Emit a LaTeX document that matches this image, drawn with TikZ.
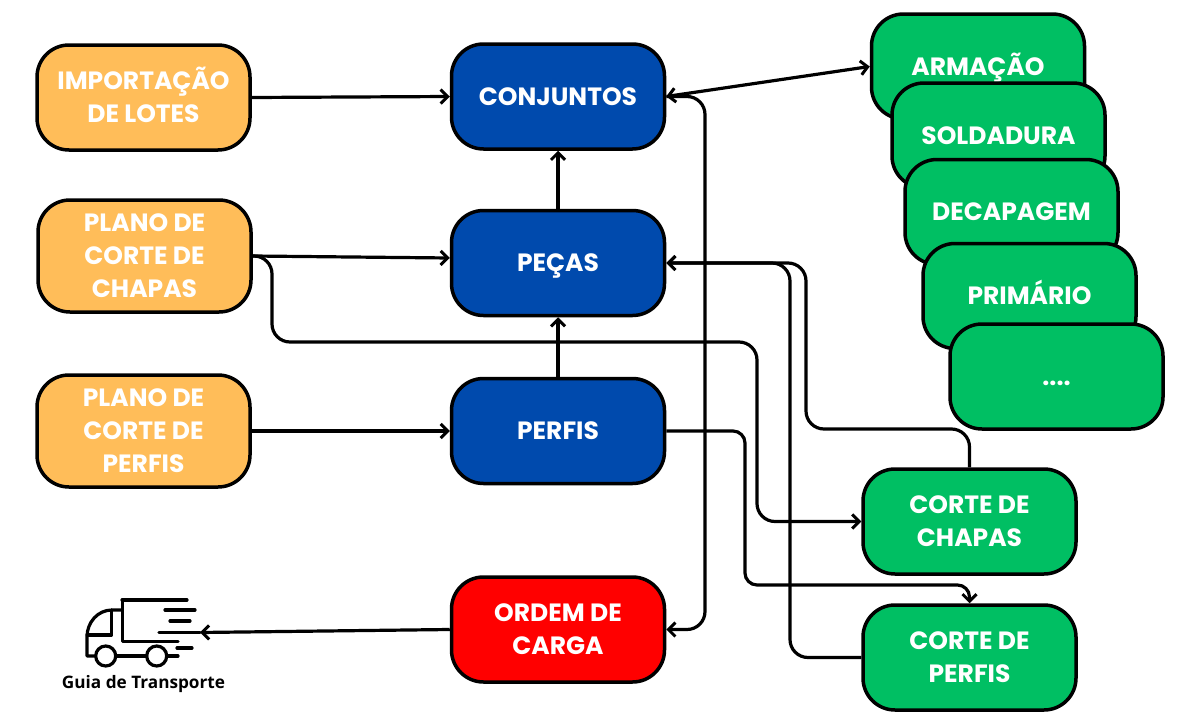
\documentclass[tikz,border=0pt]{standalone}
\usepackage{fontspec}
\setmainfont{Poppins}
\newfontfamily\guiafont{Open Sans}
\usetikzlibrary{arrows.meta,positioning}
\definecolor{orangebox}{HTML}{FFBD59}
\definecolor{bluebox}{HTML}{004AAD}
\definecolor{greenbox}{HTML}{00BF63}
\definecolor{redbox}{HTML}{FF0000}
\newcommand{\tst}{\rule[-7.9pt]{0pt}{33pt}}
\tikzset{
  basebox/.style={draw=black,line width=3.5pt,rounded corners=32pt,minimum width=213pt,minimum height=105pt,
    text=white,align=center,font=\fontsize{25}{33}\selectfont\bfseries,inner sep=0pt},
  orangenode/.style={basebox,fill=orangebox},
  bluenode/.style={basebox,fill=bluebox},
  greennode/.style={basebox,fill=greenbox},
  rednode/.style={basebox,fill=redbox},
  tall/.style={minimum height=112pt},
  conn/.style={draw=black,line width=3.2pt,rounded corners=18pt,-{Straight Barb[length=7pt,width=14pt,line width=3pt]}},
  truck/.style={draw=black,line width=3.2pt,line cap=round,line join=round},
}
\begin{document}
\begin{tikzpicture}[x=1pt,y=-1pt]
\useasboundingbox (0,0) rectangle (1200,720);
% left column
\node[orangenode] (imp) at (143.5,97.5) {\tst IMPORTAÇÃO\\\tst DE LOTES};
\node[orangenode,tall] (plc) at (144.5,256) {\tst PLANO DE\\CORTE DE\\\tst CHAPAS};
\node[orangenode,tall] (plp) at (143.5,431) {\tst PLANO DE\\CORTE DE\\\tst PERFIS};
% centre column
\node[bluenode] (conj) at (558,96.5) {\tst CONJUNTOS};
\node[bluenode] (pecas) at (558,263) {\tst PEÇAS};
\node[bluenode] (perfis) at (558,431) {\tst PERFIS};
\node[rednode] (ordem) at (558,629.5) {\tst ORDEM DE\\\tst CARGA};
% stacked operations
\node[greennode] (arm) at (978,66.5) {\tst ARMAÇÃO};
\node[greennode] (sold) at (998.5,135.5) {\tst SOLDADURA};
\node[greennode] (dec) at (1011.5,212) {\tst DECAPAGEM};
\node[greennode] (prim) at (1029.5,296) {\tst PRIMÁRIO};
\node[greennode] (dots) at (1056.5,376.5) {\tst ....};
% cutting
\node[greennode] (cc) at (969.5,521.5) {\tst CORTE DE\\\tst CHAPAS};
\node[greennode] (cp) at (969.5,657.5) {\tst CORTE DE\\\tst PERFIS};
% truck
\coordinate (truckend) at (200,632.5);
\draw[truck] (122,600) -- (187,600);
\draw[truck] (122.7,600) -- (122.7,641.7) -- (178,641.7);
\draw[truck] (165,610) -- (195,610);
\draw[truck] (170,621) -- (190,621);
\draw[truck] (159,632.5) -- (200,632.5);
\draw[truck] (177,648) -- (192,648);
\draw[truck] (122,610) -- (112,610) .. controls (98,610) and (87,622) .. (87,637) -- (87,656) -- (95.5,656);
\draw[truck] (111.7,610) -- (111.7,635) -- (87,635);
\draw[truck] (105.7,656) circle (10);
\draw[truck] (156.7,656) circle (10);
\draw[truck] (115.7,656) -- (146.7,656);
\draw[truck] (166.7,656) -- (178,656);
\node[font=\guiafont\fontsize{17.2}{20}\selectfont\bfseries,text=black,inner sep=0pt] (guia) at (143.5,684) {Guia de Transporte};
% connectors
\draw[conn] (imp.east) -- (conj.west);
\draw[conn] (plc.east) -- ([yshift=5pt]pecas.west);
\draw[conn] (plp.east) -- (perfis.west);
\draw[conn] (pecas.north) -- (conj.south);
\draw[conn] (perfis.north) -- (pecas.south);
\draw[conn] (ordem.west) -- (truckend);
\draw[conn,{Straight Barb[length=7pt,width=14pt,line width=3pt]}-{Straight Barb[length=7pt,width=14pt,line width=3pt]}] (conj.east) -- (arm.west);
\draw[conn] (conj.east) -- (705,96.5) -- (705,629.5) -- (ordem.east);
\draw[conn] (plc.east) -- (272,256) -- (272,342) -- (757,342) -- (757,521.5) -- (cc.west);
\draw[conn,rounded corners=12pt] (perfis.east) -- (745,431) -- (745,585) -- (969.5,585) -- (cp.north);
\draw[conn] (cc.north) -- (969.5,429) -- (806,429) -- (806,263) -- (pecas.east);
\draw[conn] (cp.west) -- (790,657.5) -- (790,263) -- (pecas.east);
\end{tikzpicture}
\end{document}
